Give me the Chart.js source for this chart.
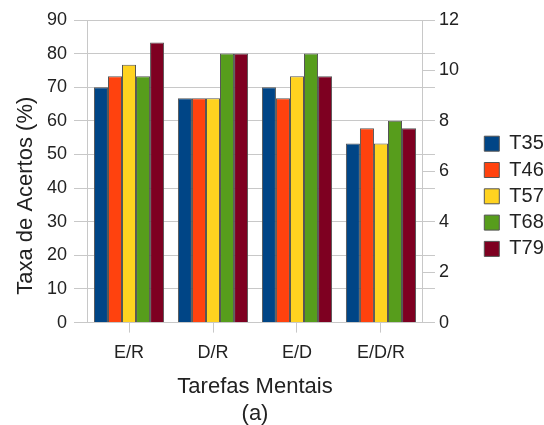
<!DOCTYPE html>
<html lang="pt">
<head>
  <meta charset="UTF-8">
  <title>Taxa de Acertos por Tarefa Mental</title>
  <style>
    html, body { margin: 0; padding: 0; background: #fff; }
    #wrap { width: 544px; height: 425px; }
  </style>
</head>
<body>
<div id="wrap"><canvas id="chart" width="544" height="425"></canvas></div>

<script src="https://cdn.jsdelivr.net/npm/chart.js"></script>
<script>
  // tarefas mentais (eixo x)
  const tarefas = ['E/R', 'D/R', 'E/D', 'E/D/R'];

  // taxa de acertos (%) por janela
  const t35 = [70.0, 66.7, 70.0, 53.3];
  const t46 = [73.3, 66.7, 66.7, 57.8];
  const t57 = [76.7, 66.7, 73.3, 53.3];
  const t68 = [73.3, 80.0, 80.0, 60.0];
  const t79 = [83.3, 80.0, 73.3, 57.8];

  const seriesNames = ['T35', 'T46', 'T57', 'T68', 'T79'];
  const seriesColors = ['#004586', '#ff420e', '#ffd320', '#579d1c', '#7e0021'];

  // marcas dos eixos
  const leftTicks = [0, 10, 20, 30, 40, 50, 60, 70, 80, 90];
  const rightLabels = [0, 2, 4, 6, 8, 10, 12];

  const grid = '#c8c8c8';
  const ink = '#222';
  const fam = "'Liberation Sans', Arial, sans-serif";

  // o eixo da direita tambem recebe as marcas das linhas de grade da esquerda
  const rightTicks = rightLabels.slice();
  leftTicks.forEach(v => {
    const r = v * 12 / 90;
    if (!rightTicks.some(x => Math.abs(x - r) < 1e-9)) rightTicks.push(r);
  });
  rightTicks.sort((a, b) => a - b);

  const datasets = [t35, t46, t57, t68, t79].map((vals, i) => ({
    label: seriesNames[i],
    data: vals,
    backgroundColor: seriesColors[i],
    borderColor: '#555',
    borderWidth: 1,
    categoryPercentage: 0.835,
    barPercentage: 1.0,
    yAxisID: 'y'
  }));

  new Chart(document.getElementById('chart'), {
    type: 'bar',
    data: { labels: tarefas, datasets: datasets },
    options: {
      responsive: false,
      animation: false,
      layout: { padding: { top: 20, left: 4, right: 0, bottom: -2 } },
      plugins: {
        tooltip: { enabled: false },
        legend: {
          position: 'right',
          align: 'start',
          maxWidth: 66,
          title: { display: true, text: '', font: { size: 12 }, padding: { top: 0, bottom: 93 } },
          labels: {
            boxWidth: 15,
            boxHeight: 15,
            padding: 6.3,
            color: ink,
            font: { family: fam, size: 20 }
          }
        }
      },
      scales: {
        x: {
          grid: { display: true, drawOnChartArea: false, offset: false, color: grid, tickLength: 10 },
          border: { display: true, color: grid },
          ticks: { color: ink, padding: 10, font: { family: fam, size: 18 } },
          title: {
            display: true,
            text: ['Tarefas Mentais', '(a)'],
            color: ink,
            font: { family: fam, size: 22, lineHeight: 1.2 },
            padding: { top: 0, bottom: 0 }
          }
        },
        y: {
          position: 'left',
          min: 0,
          max: 90,
          afterBuildTicks: (axis) => { axis.ticks = leftTicks.map(v => ({ value: v })); },
          grid: { color: grid, tickLength: 13 },
          border: { display: true, color: grid },
          ticks: { color: ink, padding: 7, font: { family: fam, size: 18 } },
          title: {
            display: true,
            text: 'Taxa de Acertos (%)        ',
            color: ink,
            font: { family: fam, size: 22, lineHeight: 1.2 },
            padding: { top: 8.8, bottom: 0.8 }
          }
        },
        y1: {
          position: 'right',
          min: 0,
          max: 12,
          afterBuildTicks: (axis) => { axis.ticks = rightTicks.map(v => ({ value: v })); },
          afterFit: (axis) => { axis.width += 15; },
          grid: { drawOnChartArea: false, color: grid, tickLength: 12 },
          border: { display: true, color: grid },
          ticks: {
            color: ink,
            padding: 4,
            font: { family: fam, size: 18 },
            callback: (v) => rightLabels.some(x => Math.abs(x - v) < 1e-9) ? Math.round(v) : ''
          }
        }
      }
    }
  });
</script>
</body>
</html>
